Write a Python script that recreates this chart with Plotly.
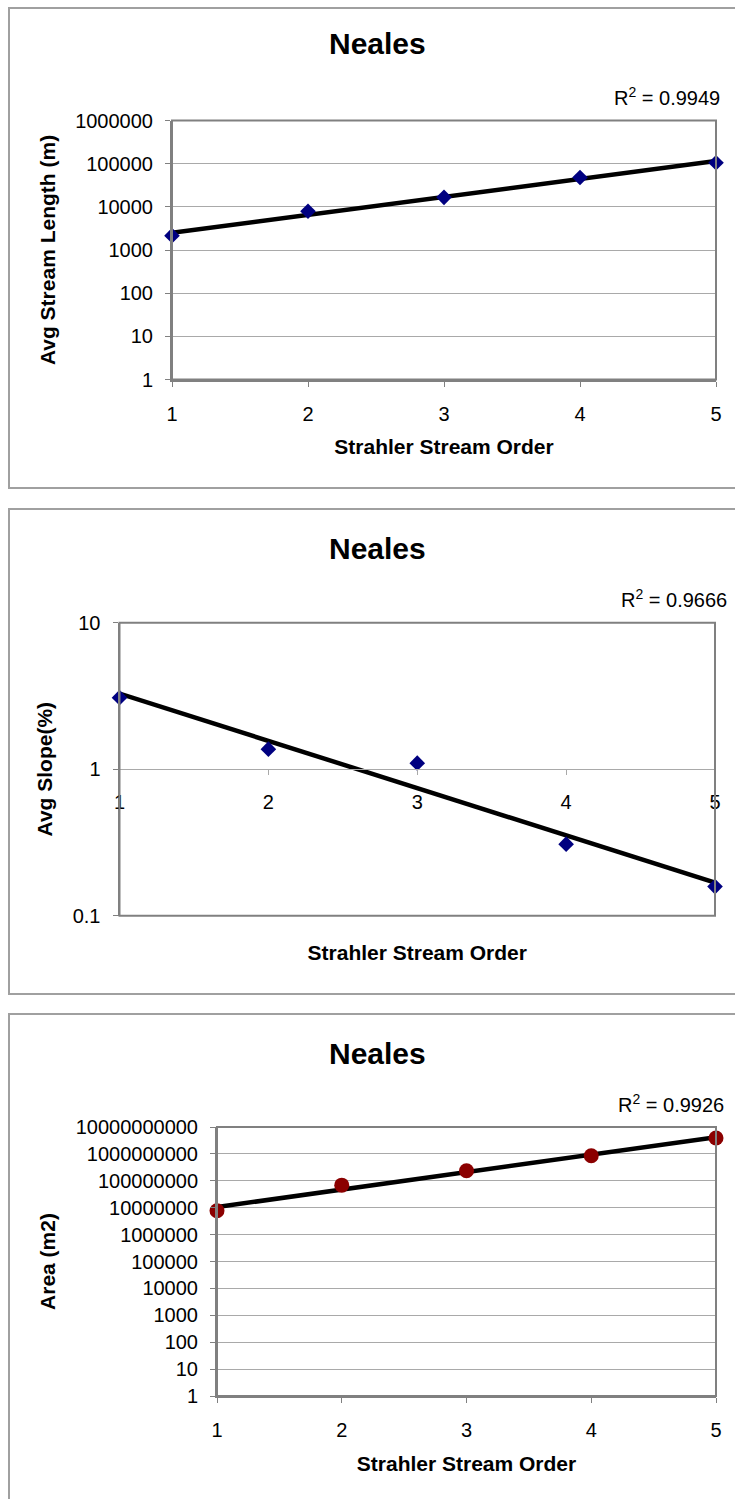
import numpy as np
import plotly.graph_objects as go

# ---------------- data ----------------
stream_order = [1, 2, 3, 4, 5]
avg_stream_length = [2150, 7900, 16600, 48000, 105000]      # m
avg_slope = [3.08, 1.37, 1.10, 0.308, 0.158]               # %
basin_area = [7.7e6, 6.9e7, 2.37e8, 8.5e8, 3.9e9]           # m2

r2_labels = ["0.9949", "0.9666", "0.9926"]
chart_title = "Neales"
x_title = "Strahler Stream Order"
y_titles = ["Avg Stream Length (m)", "Avg Slope(%)", "Area (m2)"]

x_ticks = [1, 2, 3, 4, 5]
length_ticks = [1, 10, 100, 1000, 10000, 100000, 1000000]
length_ticktext = ["1", "10", "100", "1000", "10000", "100000", "1000000"]
slope_ticks = [0.1, 1, 10]
slope_ticktext = ["0.1", "1", "10"]
area_ticks = [1, 10, 100, 1000, 10000, 100000, 1e6, 1e7, 1e8, 1e9, 1e10]
area_ticktext = ["1", "10", "100", "1000", "10000", "100000", "1000000",
                 "10000000", "100000000", "1000000000", "10000000000"]

# ---------------- layout geometry (pixels) ----------------
W, H = 735, 1499
FONT = "Liberation Sans, Arial, Helvetica, sans-serif"


def px(x):
    return x / W


def py(y):
    return 1 - y / H


panels = [
    dict(plot=(172, 716, 120.5, 379.5), box=(9, 760, 8, 488), title_y=43, r2=(722, 97),
         values=avg_stream_length, ticks=length_ticks, ticktext=length_ticktext,
         yrange=[0, 6], symbol="diamond", color="#000080", msize=12),
    dict(plot=(119.5, 715, 622.7, 915.7), box=(9, 760, 509, 994), title_y=548, r2=(729, 598),
         values=avg_slope, ticks=slope_ticks, ticktext=slope_ticktext,
         yrange=[-1, 1], symbol="diamond", color="#000080", msize=12),
    dict(plot=(217, 716, 1127, 1396), box=(9, 760, 1014, 1520), title_y=1053, r2=(726, 1103),
         values=basin_area, ticks=area_ticks, ticktext=area_ticktext,
         yrange=[0, 10], symbol="circle", color="#8B0000", msize=15),
]

fig = go.Figure()
shapes = []
annotations = []
GRID = "#a9a9a9"
BORDER = "#808080"

for i, p in enumerate(panels):
    n = "" if i == 0 else str(i + 1)
    xa, ya = "x" + n, "y" + n
    x0, x1, y0, y1 = p["plot"]

    # exponential trendline (least squares in log space, as Excel does)
    slope, intercept = np.polyfit(stream_order, np.log10(p["values"]), 1)
    trend = [10 ** (intercept + slope * x) for x in stream_order]

    fig.add_trace(go.Scatter(
        x=stream_order, y=trend, mode="lines", xaxis=xa, yaxis=ya,
        line=dict(color="black", width=4.5), cliponaxis=False, showlegend=False,
        hoverinfo="skip"))
    fig.add_trace(go.Scatter(
        x=stream_order, y=p["values"], mode="markers", xaxis=xa, yaxis=ya,
        marker=dict(symbol=p["symbol"], size=p["msize"], color=p["color"],
                    line=dict(width=0)),
        cliponaxis=False, showlegend=False, name=y_titles[i]))

    xaxis = dict(
        domain=[px(x0), px(x1)], range=[1, 5], tickvals=x_ticks,
        showgrid=False, zeroline=False, showline=True, linecolor=BORDER, linewidth=2,
        ticks="outside", ticklen=5, tickcolor=BORDER, tickwidth=1,
        tickfont=dict(family=FONT, size=20, color="#000"), ticklabelstandoff=10,
        title=dict(text=x_title, font=dict(family=FONT, size=21, color="#000", weight="bold"),
                   standoff=16),
        automargin=False, fixedrange=True)
    if i == 1:
        # Excel: category axis crosses the value axis at 1
        ymid = (y0 + y1) / 2
        xaxis.update(anchor="free", position=py(ymid), linecolor=GRID, linewidth=1,
                     tickcolor=GRID)
        xaxis["title"]["standoff"] = 16 + (y1 - ymid) - 30
    else:
        xaxis.update(anchor=ya)

    yaxis = dict(
        domain=[py(y1), py(y0)], type="log", range=p["yrange"], anchor=xa,
        tickvals=p["ticks"], ticktext=p["ticktext"],
        showgrid=True, gridcolor=GRID, gridwidth=1, zeroline=False,
        showline=True, linecolor=BORDER, linewidth=2,
        ticks="outside", ticklen=5, tickcolor=BORDER, tickwidth=1,
        tickfont=dict(family=FONT, size=20, color="#000"), ticklabelstandoff=8,
        title=dict(text=y_titles[i], font=dict(family=FONT, size=21, color="#000", weight="bold"),
                   standoff=14),
        automargin=False, fixedrange=True)

    fig.update_layout(**{"xaxis" + n: xaxis, "yaxis" + n: yaxis})

    # plot-area border
    shapes.append(dict(type="rect", xref="paper", yref="paper",
                       x0=px(x0), x1=px(x1), y0=py(y1), y1=py(y0),
                       line=dict(color=BORDER, width=2), layer="above"))
    # chart-area border
    bx0, bx1, by0, by1 = p["box"]
    shapes.append(dict(type="rect", xref="paper", yref="paper",
                       x0=px(bx0), x1=px(bx1), y0=py(by1), y1=py(by0),
                       line=dict(color="#a0a0a0", width=2), layer="below"))
    # title
    annotations.append(dict(text=chart_title, xref="paper", yref="paper",
                            x=px(378), y=py(p["title_y"]), xanchor="center", yanchor="middle",
                            showarrow=False,
                            font=dict(family=FONT, size=30, color="#000", weight="bold")))
    # R^2 label
    annotations.append(dict(text="R<sup>2</sup> = " + r2_labels[i], xref="paper", yref="paper",
                            x=px(p["r2"][0]), y=py(p["r2"][1]), xanchor="right", yanchor="middle",
                            showarrow=False, font=dict(family=FONT, size=20, color="#000")))

fig.update_layout(
    width=W, height=H, margin=dict(l=0, r=0, t=0, b=0),
    paper_bgcolor="white", plot_bgcolor="white",
    shapes=shapes, annotations=annotations, showlegend=False,
    font=dict(family=FONT, color="#000"),
)

fig.write_html("out.html", config={"displayModeBar": False})
